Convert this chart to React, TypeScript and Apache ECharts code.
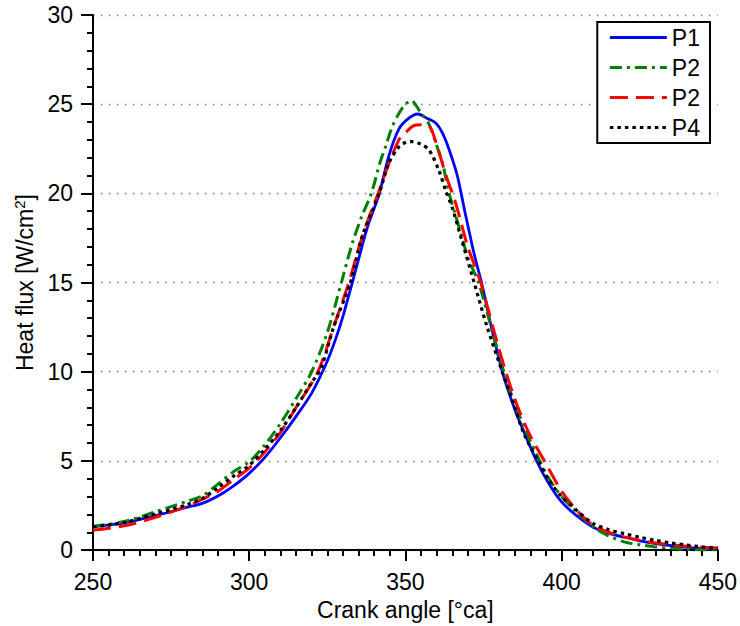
import React, { useEffect, useRef } from "react";
import * as echarts from "echarts";

const seriesNames = ["P1", "P2", "P2 ", "P4"];

const p1: [number, number][] = [
  [250, 1.3], [260, 1.52], [270, 1.93], [280, 2.4], [285, 2.62], [290, 3.03], [295, 3.6],
  [300, 4.3], [305, 5.2], [310, 6.3], [315, 7.5], [320, 8.8], [325, 10.6], [328, 12.0],
  [330, 13.1], [333, 15.0], [335, 16.3], [338, 18.2], [341.5, 19.9], [344.7, 22.1],
  [347.9, 23.6], [351, 24.2], [354, 24.45], [357, 24.2], [359.7, 23.95], [361.8, 23.4],
  [364, 22.45], [366.6, 21.0], [369, 19.0], [372, 16.6], [374.5, 14.9], [377, 12.9],
  [381, 10.0], [385, 7.9], [388, 6.6], [392, 5.0], [396, 3.7], [400, 2.7], [405, 1.9],
  [410, 1.3], [415, 0.95], [420, 0.72], [425, 0.52], [430, 0.37], [435, 0.25],
  [440, 0.15], [445, 0.08], [450, 0.05],
];

const p2a: [number, number][] = [
  [250, 1.33], [260, 1.6], [270, 2.15], [280, 2.73], [285, 3.05], [290, 3.7], [295, 4.4],
  [300, 4.95], [305, 5.9], [310, 7.1], [315, 8.5], [320, 10.0], [325, 12.2], [329.5, 15.0],
  [333, 17.2], [336, 18.7], [339.1, 20.0], [342, 21.8], [343.6, 22.6], [345.8, 23.75],
  [348, 24.5], [350, 25.0], [352, 25.2], [353.5, 24.9], [355, 24.5], [357.5, 23.9],
  [360, 22.7], [362, 21.6], [364, 20.0], [366, 18.8], [368, 17.6], [370, 16.4],
  [373.4, 15.0], [377, 12.8], [381.5, 10.0], [385, 8.2], [389, 6.5], [393, 5.0],
  [396, 4.0], [400, 3.0], [405, 2.1], [410, 1.3], [415, 0.8], [420, 0.46], [425, 0.3],
  [430, 0.18], [435, 0.1], [440, 0.04], [445, 0.01], [450, 0.0],
];

const p2b: [number, number][] = [
  [250, 1.12], [260, 1.36], [270, 1.84], [280, 2.46], [285, 2.85], [290, 3.3], [295, 3.95],
  [300, 4.6], [305, 5.5], [310, 6.6], [315, 8.0], [322, 10.0], [327, 12.5], [331.9, 15.0],
  [335, 16.9], [338, 18.5], [341.3, 20.0], [343.6, 21.15], [347.9, 23.0], [350, 23.4],
  [352.7, 23.8], [355, 23.85], [357.5, 23.8], [359.7, 22.9], [363, 21.0], [366, 19.5],
  [370, 17.0], [374.1, 15.0], [378, 12.5], [382.1, 10.0], [386, 8.0], [390, 6.4],
  [394.5, 5.0], [400, 3.3], [405, 2.2], [410, 1.4], [415, 1.0], [420, 0.74], [425, 0.55],
  [430, 0.4], [435, 0.3], [440, 0.22], [445, 0.16], [450, 0.12],
];

const p4: [number, number][] = [
  [250, 1.3], [260, 1.55], [270, 2.03], [280, 2.54], [285, 2.9], [290, 3.5], [295, 4.15],
  [300, 4.75], [305, 5.65], [310, 6.7], [315, 8.0], [320, 9.4], [323, 10.2], [327, 12.5],
  [332.4, 15.0], [336, 17.5], [341.6, 20.0], [344.7, 21.7], [347.9, 22.6], [350, 22.85],
  [352.2, 22.9], [355, 22.75], [357.5, 22.45], [360.7, 21.3], [363, 20.1], [365, 19.2],
  [368, 17.4], [372, 15.0], [376, 12.6], [381, 10.0], [385, 8.0], [388, 6.5],
  [392.5, 5.0], [396, 3.9], [400, 3.0], [405, 2.2], [410, 1.5], [415, 1.15], [420, 0.92],
  [425, 0.72], [430, 0.55], [435, 0.4], [440, 0.28], [445, 0.18], [450, 0.1],
];

const xTicks = { min: 250, max: 450, interval: 50 };
const yTicks = { min: 0, max: 30, interval: 5 };

const FONT = "'Liberation Sans', Arial, Helvetica, sans-serif";

export default function App() {
  const ref = useRef<HTMLDivElement>(null);
  useEffect(() => {
    if (!ref.current) return;
    const chart = echarts.init(ref.current, undefined, { renderer: "svg" });
    const lineSeries = (
      name: string,
      data: [number, number][],
      color: string,
      type: any,
      width: number
    ) => ({
      name,
      type: "line",
      data,
      showSymbol: false,
      symbol: "none",
      smooth: 0.3,
      lineStyle: { color, width, type },
      itemStyle: { color },
      z: 3,
    });
    chart.setOption({
      animation: false,
      backgroundColor: "#ffffff",
      textStyle: { fontFamily: FONT },
      grid: { left: 93, right: 21, top: 15, bottom: 74, containLabel: false },
      legend: {
        orient: "vertical",
        right: 30,
        top: 22,
        backgroundColor: "#ffffff",
        borderColor: "#000000",
        borderWidth: 2,
        borderRadius: 0,
        padding: [4, 10, 4, 11],
        itemWidth: 57,
        itemHeight: 14,
        itemGap: 7,
        itemStyle: { opacity: 0 },
        lineStyle: { width: 3.2 },
        formatter: (n: string) => n.trim(),
        textStyle: { fontSize: 23, color: "#000", fontFamily: FONT },
        data: seriesNames,
      },
      xAxis: {
        type: "value",
        min: xTicks.min,
        max: xTicks.max,
        interval: xTicks.interval,
        name: "Crank angle [°ca]",
        nameLocation: "middle",
        nameGap: 45,
        nameTextStyle: { fontSize: 23, color: "#000", fontFamily: FONT },
        axisLine: { show: true, onZero: false, lineStyle: { color: "#000", width: 2 } },
        axisTick: { show: true, inside: false, length: 11, lineStyle: { color: "#000", width: 2 } },
        minorTick: { show: true, splitNumber: 10, length: 6, lineStyle: { color: "#000", width: 2 } },
        axisLabel: { fontSize: 23, color: "#000", margin: 20, fontFamily: FONT },
        splitLine: { show: false },
      },
      yAxis: {
        type: "value",
        min: yTicks.min,
        max: yTicks.max,
        interval: yTicks.interval,
        name: "Heat flux [W/cm{sup|2}]",
        nameLocation: "middle",
        nameGap: 53,
        nameTextStyle: {
          fontSize: 23,
          color: "#000",
          fontFamily: FONT,
          verticalAlign: "bottom",
          rich: {
            sup: { fontSize: 15, padding: [0, 0, 12, 0], verticalAlign: "bottom", fontFamily: FONT, color: "#000" },
          },
        },
        axisLine: { show: true, onZero: false, lineStyle: { color: "#000", width: 2 } },
        axisTick: { show: true, inside: false, length: 12, lineStyle: { color: "#000", width: 2 } },
        minorTick: { show: true, splitNumber: 5, length: 6, lineStyle: { color: "#000", width: 2 } },
        axisLabel: { fontSize: 23, color: "#000", margin: 20, fontFamily: FONT },
        splitLine: {
          show: true,
          lineStyle: { color: "#808080", width: 1.3, type: [1.5, 6.5] },
        },
      },
      series: [
        lineSeries(seriesNames[0], p1, "#0000ff", "solid", 2.8),
        lineSeries(seriesNames[1], p2a, "#007f00", [12, 5, 3, 5], 3),
        lineSeries(seriesNames[2], p2b, "#ff0000", [18, 8], 3),
        lineSeries(seriesNames[3], p4, "#000000", [3.5, 4], 3.2),
      ],
    });
    return () => chart.dispose();
  }, []);
  return (
    <div
      ref={ref}
      style={{ position: "absolute", left: 0, top: 0, width: 740, height: 626 }}
    />
  );
}
